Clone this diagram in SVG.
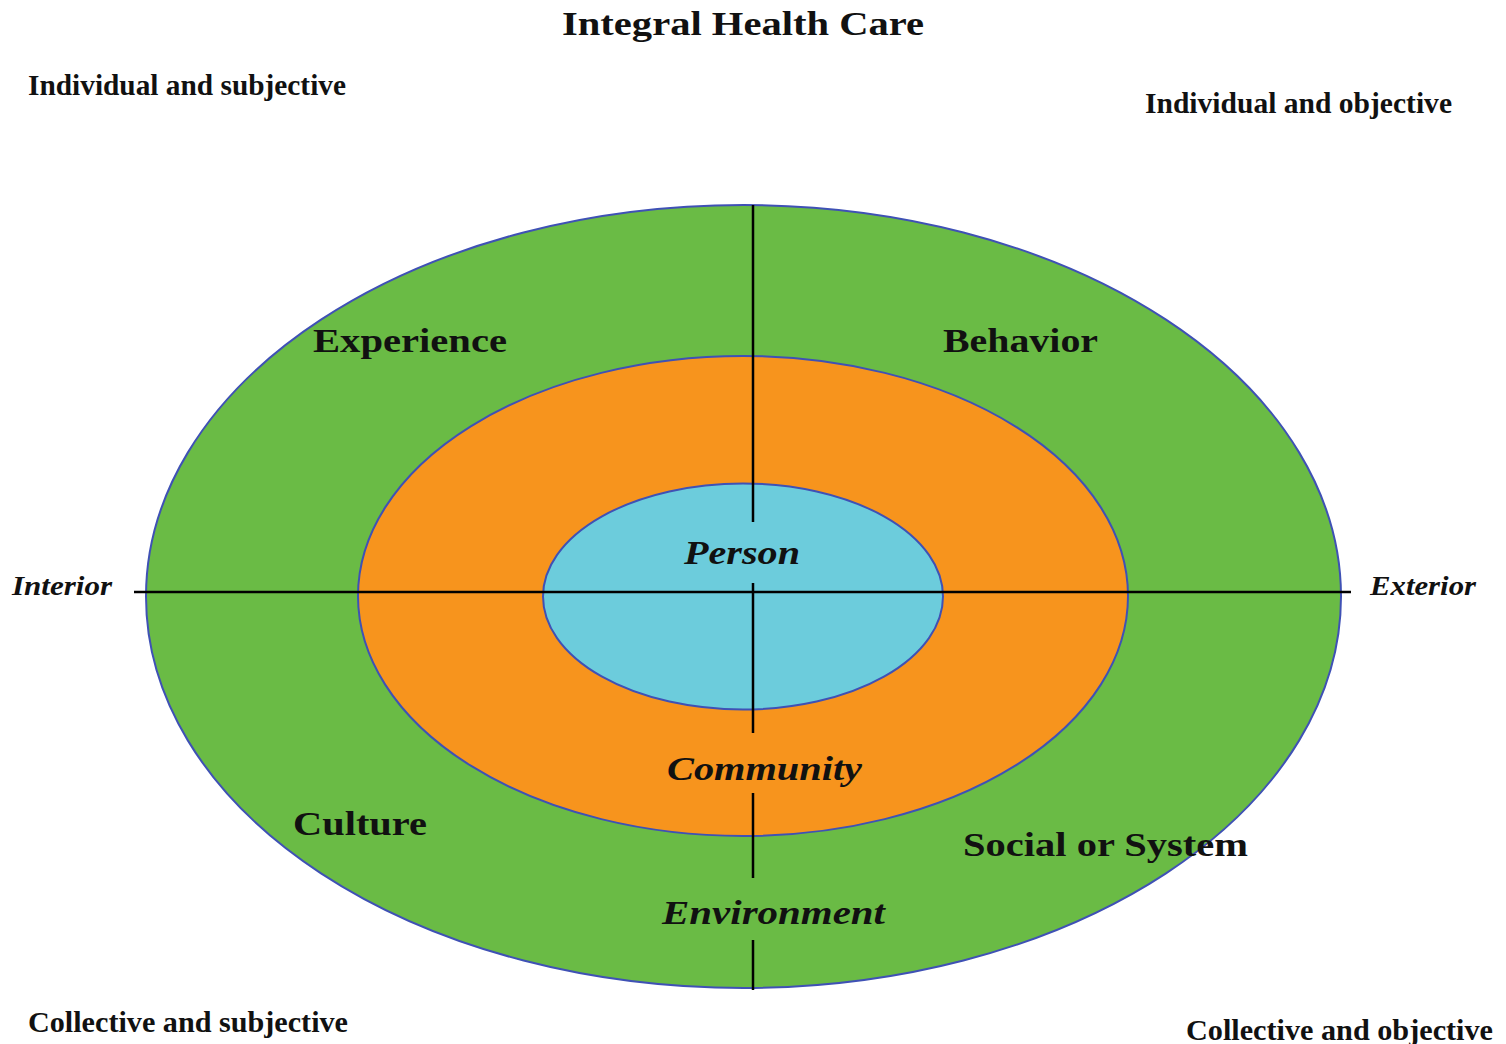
<svg xmlns="http://www.w3.org/2000/svg" width="1506" height="1044" viewBox="0 0 1506 1044">
<style>
text{font-family:"Liberation Serif","Times New Roman",serif;fill:#111;font-weight:bold}
.corner{font-size:29px;font-weight:bold}
.big{font-size:34px}
.it{font-style:italic}
.ring{stroke:#3f51b5;stroke-width:2}
.axis{stroke:#000;stroke-width:2.5;fill:none}
</style>
<rect width="1506" height="1044" fill="#fff"/>
<text x="743" y="35" text-anchor="middle" class="big" textLength="362" lengthAdjust="spacingAndGlyphs">Integral Health Care</text>
<text x="28" y="95" class="corner" textLength="318" lengthAdjust="spacingAndGlyphs">Individual and subjective</text>
<text x="1145" y="113" class="corner" textLength="307" lengthAdjust="spacingAndGlyphs">Individual and objective</text>
<text x="28" y="1032" class="corner" textLength="320" lengthAdjust="spacingAndGlyphs">Collective and subjective</text>
<text x="1186" y="1040" class="corner" textLength="307" lengthAdjust="spacingAndGlyphs">Collective and objective</text>
<g id="outer"><ellipse class="ring" cx="743.5" cy="596.5" rx="597.5" ry="391.5" fill="#6abb45"/></g>
<g id="middle"><ellipse class="ring" cx="743" cy="596" rx="385" ry="240" fill="#f7941d"/></g>
<g id="inner"><ellipse class="ring" cx="743" cy="596.5" rx="200" ry="113" fill="#6cccdc"/></g>
<g id="connectors">
<line class="axis" x1="134" y1="592" x2="1351" y2="592"/>
<line class="axis" x1="753" y1="205" x2="753" y2="522"/>
<line class="axis" x1="753" y1="583" x2="753" y2="733"/>
<line class="axis" x1="753" y1="793" x2="753" y2="878"/>
<line class="axis" x1="753" y1="940" x2="753" y2="990"/>
</g>
<g id="labels">
<text x="313" y="352" class="big" textLength="194" lengthAdjust="spacingAndGlyphs">Experience</text>
<text x="943" y="352" class="big" textLength="155" lengthAdjust="spacingAndGlyphs">Behavior</text>
<text x="684" y="564" class="big it" textLength="116" lengthAdjust="spacingAndGlyphs">Person</text>
<text x="12" y="595" class="it" font-size="28" textLength="100" lengthAdjust="spacingAndGlyphs">Interior</text>
<text x="1370" y="595" class="it" font-size="28" textLength="106" lengthAdjust="spacingAndGlyphs">Exterior</text>
<text x="667" y="780" class="big it" textLength="195" lengthAdjust="spacingAndGlyphs">Community</text>
<text x="293" y="835" class="big" textLength="134" lengthAdjust="spacingAndGlyphs">Culture</text>
<text x="963" y="856" class="big" textLength="285" lengthAdjust="spacingAndGlyphs">Social or System</text>
<text x="662" y="924" class="big it" textLength="223" lengthAdjust="spacingAndGlyphs">Environment</text>
</g>
</svg>
